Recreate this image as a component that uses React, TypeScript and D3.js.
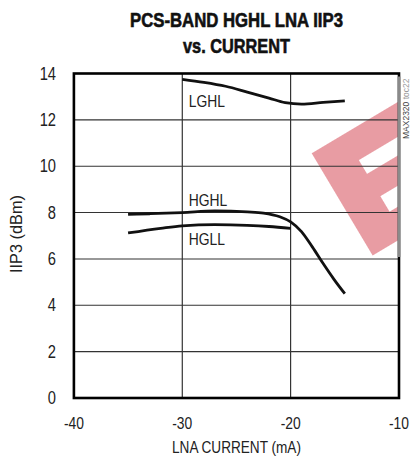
import React from "react";
import * as d3 from "d3";

const xTicks = [-40, -30, -20, -10];
const yTicks = [0, 2, 4, 6, 8, 10, 12, 14];

const lghlX = [-30, -28, -26, -24, -22, -20.5, -19, -17, -15];
const lghlY = [13.75, 13.62, 13.45, 13.2, 12.94, 12.74, 12.68, 12.75, 12.82];

const hghlX = [-35, -33, -30, -27, -24, -22.5, -21, -20, -19, -18, -17, -16, -15];
const hghlY = [7.92, 7.95, 8.0, 8.07, 8.03, 7.98, 7.82, 7.6, 7.18, 6.52, 5.8, 5.12, 4.5];

const hgllX = [-35, -32, -30, -27, -24, -22, -20];
const hgllY = [7.12, 7.32, 7.43, 7.48, 7.45, 7.4, 7.32];

const curveLabels = ["LGHL", "HGHL", "HGLL"];

const FONT = "'Liberation Sans', Arial, sans-serif";

function NText(props: {
  x: number;
  y: number;
  sx?: number;
  size: number;
  anchor?: string;
  fill?: string;
  rotate?: number;
  children: React.ReactNode;
}) {
  const { x, y, sx = 0.84, size, anchor = "start", fill = "#222", rotate = 0 } = props;
  return (
    <text
      transform={`translate(${x},${y}) rotate(${rotate}) scale(${sx},1)`}
      fontSize={size}
      textAnchor={anchor}
      fill={fill}
    >
      {props.children}
    </text>
  );
}

export default function App() {
  const W = 410;
  const H = 458;
  const L = 73.9, R = 399, T = 73.5, B = 398;
  const x = d3.scaleLinear().domain([-40, -10]).range([L, R]);
  const y = d3.scaleLinear().domain([0, 14]).range([B, T]);

  const line = d3
    .line<[number, number]>()
    .x((d) => x(d[0]))
    .y((d) => y(d[1]))
    .curve(d3.curveMonotoneX);

  const series = [
    { xs: lghlX, ys: lghlY },
    { xs: hghlX, ys: hghlY },
    { xs: hgllX, ys: hgllY },
  ];

  // Watermark "E" polygon in local rotated coords
  const s = 37, Hh = 119, far = 220;
  const ePoly = [
    [0, 0], [far, 0], [far, 30], [s, 30], [s, 46], [far, 46], [far, 72], [s, 72], [s, 90], [far, 90], [far, Hh], [0, Hh],
  ]
    .map((p) => p.join(","))
    .join(" ");

  const labelPos = [
    { lx: -29.4, ly: 106.7 },
    { lx: -29.4, ly: 206 },
    { lx: -29.4, ly: 245 },
  ];

  return (
    <svg
      width={W}
      height={H}
      style={{ position: "absolute", left: 0, top: 0, background: "#fff" }}
      fontFamily={FONT}
    >
      <defs>
        <clipPath id="plotclip">
          <rect x={L} y={T} width={R - L} height={B - T} />
        </clipPath>
        <filter id="soft" x="-20%" y="-20%" width="140%" height="140%">
          <feGaussianBlur stdDeviation="0.6" />
        </filter>
      </defs>
      <rect x={0} y={0} width={W} height={H} fill="#fff" />

      {/* watermark */}
      <g clipPath="url(#plotclip)">
        <polygon
          points={ePoly}
          transform="translate(311.7,153.3) rotate(-30.8)"
          fill="#E89CA3"
          filter="url(#soft)"
        />
      </g>

      {/* grid */}
      {xTicks.slice(1, -1).map((t) => (
        <line key={"gx" + t} x1={x(t)} x2={x(t)} y1={T} y2={B} stroke="#222" strokeWidth={1.1} />
      ))}
      {yTicks.slice(1, -1).map((t) => (
        <line key={"gy" + t} x1={L} x2={R} y1={y(t)} y2={y(t)} stroke="#333" strokeWidth={1.1} />
      ))}

      {/* frame */}
      <rect x={L} y={T} width={R - L} height={B - T} fill="none" stroke="#000" strokeWidth={2.6} />
      <line x1={R} x2={R} y1={T + 3} y2={257} stroke="#8a8a8a" strokeWidth={2.8} />

      {/* curves */}
      {series.map((sr, i) => (
        <path
          key={"s" + i}
          d={line(sr.xs.map((v, j) => [v, sr.ys[j]] as [number, number])) || ""}
          fill="none"
          stroke="#111"
          strokeWidth={2.8}
          strokeLinecap="butt"
        />
      ))}

      {/* curve labels */}
      {curveLabels.map((lab, i) => (
        <NText key={lab} x={x(labelPos[i].lx)} y={labelPos[i].ly} size={16.3} sx={0.85}>
          {lab}
        </NText>
      ))}

      {/* y tick labels */}
      {yTicks.map((t) => (
        <NText key={"yt" + t} x={56} y={y(t) + 6.2} size={17.5} anchor="end" sx={0.84}>
          {t}
        </NText>
      ))}
      {/* x tick labels */}
      {xTicks.map((t) => (
        <NText key={"xt" + t} x={x(t)} y={429} size={16.5} anchor="middle" sx={0.84}>
          {t}
        </NText>
      ))}

      {/* axis titles */}
      <NText x={236.5} y={452.5} size={16.5} anchor="middle" sx={0.825}>
        LNA CURRENT (mA)
      </NText>
      <text
        transform="translate(21.5,234) rotate(-90)"
        fontSize={17}
        textAnchor="middle"
        fill="#222"
        textLength={78}
        lengthAdjust="spacingAndGlyphs"
      >
        IIP3 (dBm)
      </text>

      {/* title */}
      <text x={236.5} y={27} fontSize={19.5} fontWeight="bold" textAnchor="middle" fill="#111" stroke="#111" strokeWidth={0.6} textLength={213} lengthAdjust="spacingAndGlyphs">
        PCS-BAND HGHL LNA IIP3
      </text>
      <text x={236.5} y={53} fontSize={19.5} fontWeight="bold" textAnchor="middle" fill="#111" stroke="#111" strokeWidth={0.6} textLength={107} lengthAdjust="spacingAndGlyphs">
        vs. CURRENT
      </text>

      {/* side code */}
      <text transform="translate(409,139) rotate(-90)" fontSize={8.5} fill="#555">
        <tspan fill="#444">MAX2320</tspan>
        <tspan fill="#999"> toc22</tspan>
      </text>
    </svg>
  );
}
